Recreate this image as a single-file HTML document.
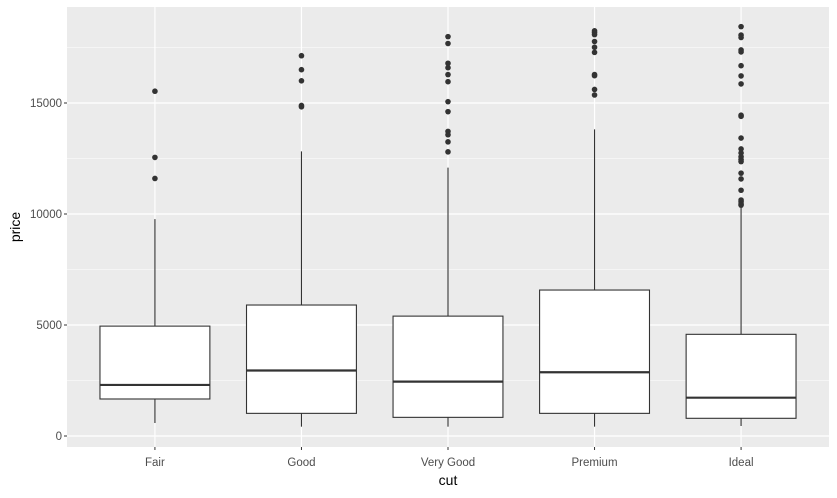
<!DOCTYPE html>
<html><head><meta charset="utf-8"><style>
body{margin:0;background:#fff;}
svg text{font-family:"Liberation Sans",Arial,sans-serif;}
</style></head><body>
<svg id="chart" width="837" height="493" xmlns="http://www.w3.org/2000/svg">
<rect x="0" y="0" width="837" height="493" fill="#fff"/>
<rect x="67" y="7" width="762" height="440" fill="#EBEBEB"/>
<g id="grid"></g><g id="marks"></g><g id="axes"></g>
<text transform="translate(20,227) rotate(-90)" text-anchor="middle" font-size="14" fill="#000">price</text>
<text x="448" y="485" text-anchor="middle" font-size="14" fill="#000">cut</text>
</svg>
<script>
const categories = ["Fair","Good","Very Good","Premium","Ideal"];
const lowerWhisker = [585, 420, 420, 420, 450];
const q1 = [1667, 1020, 840, 1020, 797];
const median = [2300, 2950, 2450, 2870, 1725];
const q3 = [4950, 5900, 5400, 6575, 4580];
const upperWhisker = [9770, 12820, 12090, 13810, 10360];
const outliers = [
 [15530, 12550, 11600],
 [17130, 16500, 16000, 14890, 14830],
 [17990, 17680, 16790, 16590, 16280, 15960, 15060, 14610, 13720, 13570, 13250, 12800],
 [18250, 18170, 18080, 17770, 17510, 17280, 16280, 16230, 15610, 15360],
 [18440, 18060, 17950, 17390, 17300, 16680, 16220, 15860, 14450, 14400, 13420, 12930, 12750, 12580, 12450, 12360, 11840, 11580, 11070, 10630, 10550, 10450, 10400]
];
const yTicks = [0, 5000, 10000, 15000];
const yMinor = [2500, 7500, 12500, 17500];

const NS = "http://www.w3.org/2000/svg";
const x0 = 67, x1 = 829, y0 = 7, y1 = 447;
function yScale(v){ return 436 - v * (333 / 15000); }
const step = (x1 - x0) / (categories.length + 0.2);
function xScale(i){ return x0 + step * 0.6 + step * i; }
const boxW = step * 0.75;
function mk(tag, attrs, parent){ const e = document.createElementNS(NS, tag); for (const k in attrs) e.setAttribute(k, attrs[k]); parent.appendChild(e); return e; }
const grid = document.getElementById('grid'), marks = document.getElementById('marks'), axes = document.getElementById('axes');

yMinor.forEach(v => {
  const l = mk('line', {x1:x0, x2:x1, y1:yScale(v), y2:yScale(v), stroke:'#fff', 'stroke-width':0.6}, grid);
  
  
});
yTicks.forEach(v => {
  const y = yScale(v);
  const l = mk('line', {x1:x0, x2:x1, y1:y, y2:y, stroke:'#fff', 'stroke-width':1.2}, grid);
  
  
  mk('line', {x1:x0-3, x2:x0, y1:y, y2:y, stroke:'#333', 'stroke-width':1}, axes);
  const t = mk('text', {x:x0-5, y:y+4, 'text-anchor':'end', 'font-size':11.5, fill:'#4D4D4D'}, axes);
  t.textContent = v;
  
  
});
categories.forEach((c, i) => {
  const x = xScale(i);
  const g = mk('line', {x1:x, x2:x, y1:y0, y2:y1, stroke:'#fff', 'stroke-width':1.2}, grid);
  
  
  mk('line', {x1:x, x2:x, y1:y1, y2:y1+3, stroke:'#333', 'stroke-width':1}, axes);
  const t = mk('text', {x:x, y:466, 'text-anchor':'middle', 'font-size':11.5, fill:'#4D4D4D'}, axes);
  t.textContent = c;
  
  

  const grp = mk('g', {}, marks);
  
  
  mk('line', {x1:x, x2:x, y1:yScale(upperWhisker[i]), y2:yScale(q3[i]), stroke:'#333', 'stroke-width':1.1}, grp);
  mk('line', {x1:x, x2:x, y1:yScale(q1[i]), y2:yScale(lowerWhisker[i]), stroke:'#333', 'stroke-width':1.1}, grp);
  mk('rect', {x:x-boxW/2, y:yScale(q3[i]), width:boxW, height:yScale(q1[i])-yScale(q3[i]), fill:'#fff', stroke:'#333', 'stroke-width':1.1}, grp);
  mk('line', {x1:x-boxW/2, x2:x+boxW/2, y1:yScale(median[i]), y2:yScale(median[i]), stroke:'#333', 'stroke-width':2.2}, grp);
  outliers[i].forEach(v => {
    const p = mk('circle', {cx:x, cy:yScale(v), r:2.8, fill:'#333'}, grp);
    
    
  });
});
</script>
</body></html>
